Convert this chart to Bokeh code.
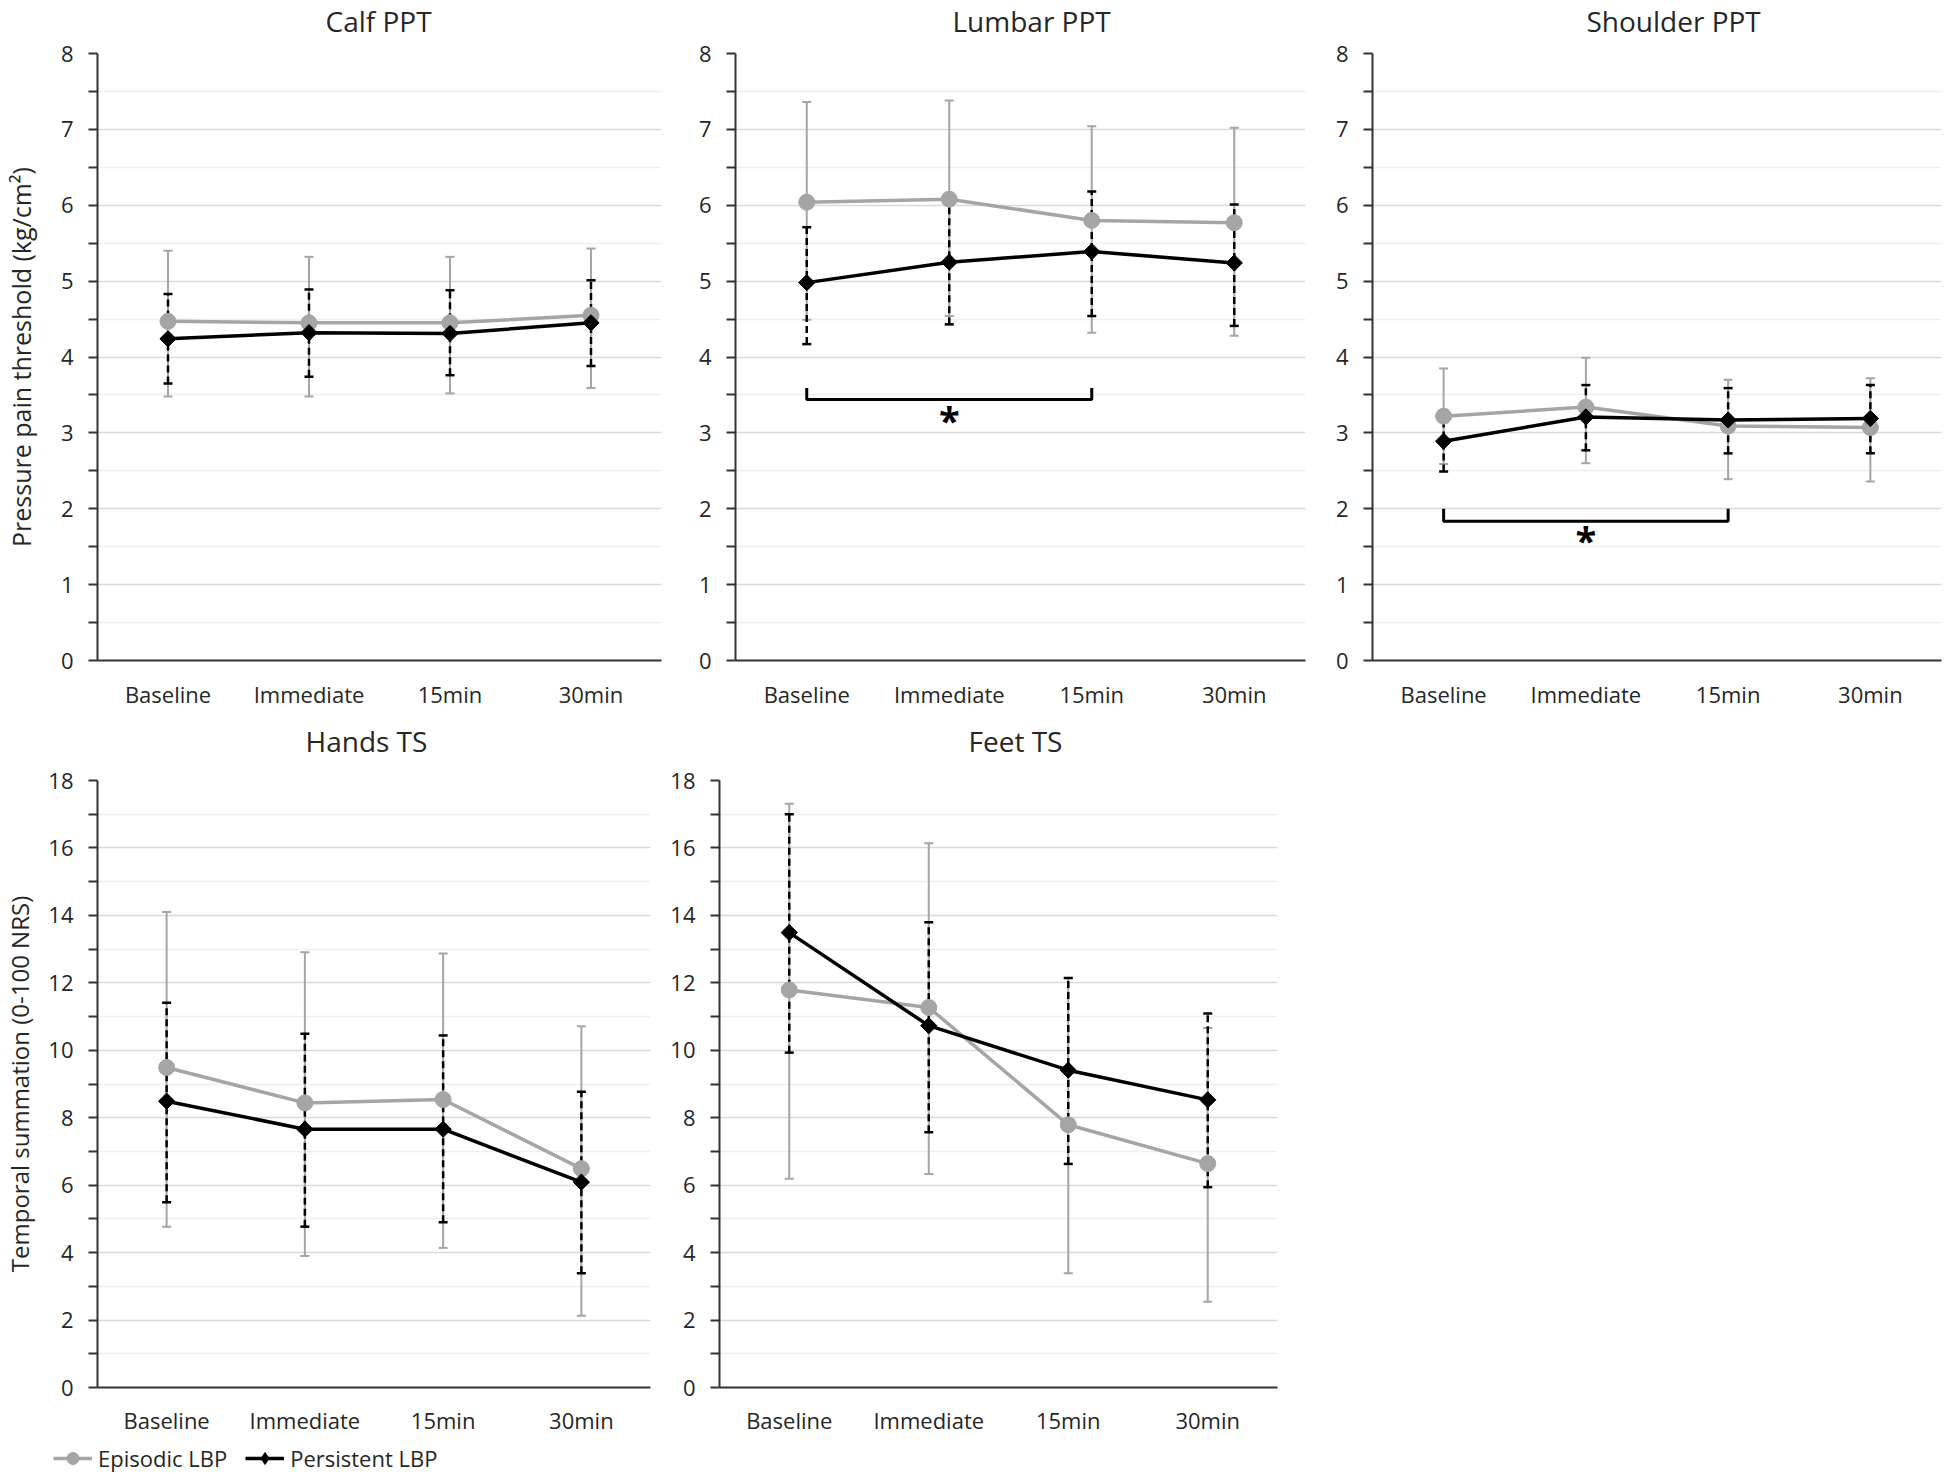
import numpy as np
from bokeh.plotting import figure
from bokeh.models import (ColumnDataSource, Whisker, TeeHead, FixedTicker, Range1d,
                          FactorRange, Legend, LegendItem, Title)
from bokeh.layouts import row, column
from bokeh.embed import file_html
from bokeh.resources import INLINE
from bokeh.core.properties import value

# ---------------- data ----------------
categories = ["Baseline", "Immediate", "15min", "30min"]

calf_epi = [4.47, 4.45, 4.45, 4.55]
calf_epi_hi = [5.40, 5.32, 5.32, 5.43]
calf_epi_lo = [3.48, 3.48, 3.52, 3.59]
calf_per = [4.24, 4.32, 4.31, 4.45]
calf_per_hi = [4.83, 4.89, 4.88, 5.01]
calf_per_lo = [3.65, 3.74, 3.76, 3.88]

lumbar_epi = [6.04, 6.08, 5.80, 5.77]
lumbar_epi_hi = [7.36, 7.38, 7.04, 7.02]
lumbar_epi_lo = [4.49, 4.54, 4.32, 4.28]
lumbar_per = [4.98, 5.25, 5.39, 5.24]
lumbar_per_hi = [5.71, 6.07, 6.18, 6.01]
lumbar_per_lo = [4.17, 4.43, 4.54, 4.41]

shoulder_epi = [3.22, 3.34, 3.09, 3.07]
shoulder_epi_hi = [3.85, 3.99, 3.70, 3.72]
shoulder_epi_lo = [2.59, 2.60, 2.39, 2.36]
shoulder_per = [2.89, 3.21, 3.17, 3.19]
shoulder_per_hi = [3.29, 3.63, 3.59, 3.63]
shoulder_per_lo = [2.49, 2.77, 2.73, 2.73]

hands_epi = [9.49, 8.44, 8.54, 6.49]
hands_epi_hi = [14.10, 12.91, 12.87, 10.71]
hands_epi_lo = [4.77, 3.90, 4.14, 2.13]
hands_per = [8.49, 7.66, 7.66, 6.09]
hands_per_hi = [11.41, 10.49, 10.44, 8.77]
hands_per_lo = [5.49, 4.77, 4.90, 3.39]

feet_epi = [11.79, 11.27, 7.79, 6.64]
feet_epi_hi = [17.31, 16.14, 12.14, 10.66]
feet_epi_lo = [6.19, 6.33, 3.39, 2.54]
feet_per = [13.49, 10.73, 9.41, 8.53]
feet_per_hi = [17.00, 13.80, 12.14, 11.09]
feet_per_lo = [9.93, 7.57, 6.63, 5.94]

ppt_ticks = [0, 1, 2, 3, 4, 5, 6, 7, 8]
ppt_minor = [0.5, 1.5, 2.5, 3.5, 4.5, 5.5, 6.5, 7.5]
ts_ticks = [0, 2, 4, 6, 8, 10, 12, 14, 16, 18]
ts_minor = [1, 3, 5, 7, 9, 11, 13, 15, 17]

# significance brackets: (start category, end category, base y, tick top y, star category, star y)
lumbar_bracket = ("Baseline", "15min", 3.44, 3.59, "Immediate", 3.17)
shoulder_bracket = ("Baseline", "15min", 1.835, 2.0, "Immediate", 1.59)

series_labels = ["Episodic LBP", "Persistent LBP"]

# ---------------- style ----------------
FONT = "Open Sans"
TEXT = "#262626"
AXIS = "#333333"
GRAY = "#A5A5A5"
BLACK = "#000000"


def draw_series(p, src_e, src_p, per_marker="square", per_angle=np.pi / 4):
    le = p.line(x="x", y="y", source=src_e, line_color=GRAY, line_width=3.5)
    se = p.scatter(x="x", y="y", source=src_e, marker="circle", size=16,
                   fill_color=GRAY, line_color=GRAY)
    lp = p.line(x="x", y="y", source=src_p, line_color=BLACK, line_width=3.5)
    sp = p.scatter(x="x", y="y", source=src_p, marker=per_marker, angle=per_angle,
                   size=11.5, fill_color=BLACK, line_color=BLACK)
    return le, se, lp, sp


def make_panel(title, width, height, bl, br, bt, bb, ymax, ticks, minor,
               epi, epi_hi, epi_lo, per, per_hi, per_lo,
               ylabel=None, ylabel_size="24px", ylabel_standoff=10, title_left=0,
               spacer=10, title_valign="bottom",
               xlabel_standoff=18, bracket=None):
    p = figure(width=width, height=height, x_range=FactorRange(*categories),
               y_range=Range1d(0, ymax), output_backend="svg", toolbar_location=None,
               min_border_left=bl, min_border_right=br, min_border_top=bt,
               min_border_bottom=bb)
    # spacer panel next to the frame, then the visible title above it
    p.add_layout(Title(text=" ", text_font_size="1px", standoff=spacer), "above")
    p.add_layout(Title(text=title, align="left", vertical_align=title_valign,
                       text_font=FONT, text_font_size="28px",
                       text_font_style="normal", text_color=TEXT, offset=title_left,
                       standoff=0), "above")
    p.outline_line_color = None
    p.background_fill_color = "white"
    p.border_fill_color = "white"

    ticker = FixedTicker(ticks=ticks, minor_ticks=minor)
    p.yaxis.ticker = ticker
    p.ygrid.ticker = ticker
    p.xgrid.grid_line_color = None
    p.ygrid.grid_line_color = "#D9D9D9"
    p.ygrid.grid_line_width = 1.5
    p.ygrid.minor_grid_line_color = "#EFEFEF"
    p.ygrid.minor_grid_line_width = 1.5

    ya = p.yaxis[0]
    ya.axis_line_color = AXIS
    ya.axis_line_width = 2
    ya.major_tick_out = 9
    ya.major_tick_in = 0
    ya.minor_tick_out = 9
    ya.minor_tick_in = 0
    ya.major_tick_line_color = AXIS
    ya.minor_tick_line_color = AXIS
    ya.major_tick_line_width = 2
    ya.minor_tick_line_width = 2
    ya.major_label_standoff = 15
    ya.major_label_text_font = FONT
    ya.major_label_text_font_size = "22px"
    ya.major_label_text_color = TEXT
    if ylabel:
        ya.axis_label = ylabel
        ya.axis_label_text_font = FONT
        ya.axis_label_text_font_size = ylabel_size
        ya.axis_label_text_font_style = "normal"
        ya.axis_label_text_color = TEXT
        ya.axis_label_standoff = ylabel_standoff

    xa = p.xaxis[0]
    xa.axis_line_color = AXIS
    xa.axis_line_width = 2
    xa.major_tick_out = 0
    xa.major_tick_in = 0
    xa.minor_tick_out = 0
    xa.major_label_standoff = xlabel_standoff
    xa.major_label_text_font = FONT
    xa.major_label_text_font_size = "22px"
    xa.major_label_text_color = TEXT

    src_e = ColumnDataSource(dict(x=categories, y=epi, hi=epi_hi, lo=epi_lo))
    src_p = ColumnDataSource(dict(x=categories, y=per, hi=per_hi, lo=per_lo))

    we = Whisker(base="x", upper="hi", lower="lo", source=src_e, level="underlay",
                 line_color=GRAY, line_width=2,
                 upper_head=TeeHead(size=9, line_color=GRAY, line_width=2),
                 lower_head=TeeHead(size=9, line_color=GRAY, line_width=2))
    wp = Whisker(base="x", upper="hi", lower="lo", source=src_p, level="underlay",
                 line_color=BLACK, line_width=2.5, line_dash="7 4",
                 upper_head=TeeHead(size=9, line_color=BLACK, line_width=2.5),
                 lower_head=TeeHead(size=9, line_color=BLACK, line_width=2.5))
    p.add_layout(we)
    p.add_layout(wp)

    draw_series(p, src_e, src_p)

    if bracket is not None:
        c0, c1, yb, yt, cs, ys = bracket
        p.line(x=[c0, c0, c1, c1], y=[yt, yb, yb, yt], line_color=BLACK, line_width=3)
        p.text(x=[cs], y=[ys], text=["*"], text_font=value(FONT), text_font_style="bold",
               text_font_size="38px", text_align="center", text_baseline="middle",
               text_color=BLACK)
    return p


top_title = dict(spacer=9, title_valign="top")
calf = make_panel("Calf PPT", 676, 712, 92, 15, 53, 52, 8, ppt_ticks, ppt_minor,
                  calf_epi, calf_epi_hi, calf_epi_lo, calf_per, calf_per_hi, calf_per_lo,
                  ylabel="Pressure pain threshold (kg/cm\u00b2)", ylabel_size="25px",
                  ylabel_standoff=20, title_left=228, **top_title)
lumbar = make_panel("Lumbar PPT", 644, 712, 59, 15, 53, 52, 8, ppt_ticks, ppt_minor,
                    lumbar_epi, lumbar_epi_hi, lumbar_epi_lo, lumbar_per, lumbar_per_hi,
                    lumbar_per_lo, title_left=217, bracket=lumbar_bracket, **top_title)
shoulder = make_panel("Shoulder PPT", 624, 712, 52, 3, 53, 52, 8, ppt_ticks, ppt_minor,
                      shoulder_epi, shoulder_epi_hi, shoulder_epi_lo, shoulder_per,
                      shoulder_per_hi, shoulder_per_lo, title_left=214,
                      bracket=shoulder_bracket, **top_title)
hands = make_panel("Hands TS", 665, 727, 92, 15, 68, 52, 18, ts_ticks, ts_minor,
                   hands_epi, hands_epi_hi, hands_epi_lo, hands_per, hands_per_hi,
                   hands_per_lo, ylabel="Temporal summation (0-100 NRS)",
                   ylabel_size="24px", ylabel_standoff=9, title_left=208,
                   spacer=18, xlabel_standoff=17)
feet = make_panel("Feet TS", 625, 727, 54, 13, 68, 52, 18, ts_ticks, ts_minor,
                  feet_epi, feet_epi_hi, feet_epi_lo, feet_per, feet_per_hi, feet_per_lo,
                  title_left=249, spacer=18, xlabel_standoff=17)

# legend strip below the Hands panel (legend renderers sit outside its visible range)
leg_fig = figure(width=480, height=34, x_range=Range1d(0, 1), y_range=Range1d(0, 1),
                 x_axis_type=None, y_axis_type=None, toolbar_location=None,
                 output_backend="svg", min_border=0, outline_line_color=None)
leg_fig.grid.visible = False
hidden_e = ColumnDataSource(dict(x=[-10, -9], y=[-10, -10]))
hidden_p = ColumnDataSource(dict(x=[-10, -9], y=[-10, -10]))
le, se, lp, sp = draw_series(leg_fig, hidden_e, hidden_p, per_marker="diamond", per_angle=0)
legend = Legend(items=[LegendItem(label=series_labels[0], renderers=[le, se]),
                       LegendItem(label=series_labels[1], renderers=[lp, sp])],
                location=(53, 0), orientation="horizontal",
                label_text_font=FONT, label_text_font_size="22px", label_text_color=TEXT,
                glyph_width=39, glyph_height=30, label_standoff=6, spacing=18,
                padding=0, margin=0, border_line_color=None, background_fill_alpha=0)
leg_fig.add_layout(legend)

layout = column(row(calf, lumbar, shoulder), row(hands, feet), leg_fig)

with open("out.html", "w") as f:
    f.write(file_html(layout, INLINE))
